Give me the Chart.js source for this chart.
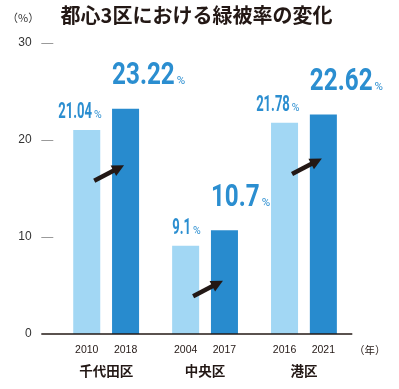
<!DOCTYPE html>
<html><head><meta charset="utf-8">
<script src="https://cdn.jsdelivr.net/npm/chart.js@4.4.1/dist/chart.umd.min.js"></script>
<style>html,body{margin:0;padding:0;background:#fff;} canvas{display:block}</style>
</head><body>
<canvas id="c" width="399" height="389"></canvas>
<script>
const districts = ['千代田区', '中央区', '港区'];
const beforeYears = ['2010', '2004', '2016'];
const afterYears = ['2018', '2017', '2021'];
const beforeValues = [21.04, 9.1, 21.78];
const afterValues = [23.22, 10.7, 22.62];
const beforeLabels = ['21.04', '9.1', '21.78'];
const afterLabels = ['23.22', '10.7', '22.62'];
const yTicks = [0, 10, 20, 30];
const arrowLevels = [15.8, 3.9, 16.5];
const titleText = '都心3区における緑被率の変化';
const yUnit = '（%）';
const xUnit = '（年）';

const LIGHT = '#A2D7F4';
const DARK = '#288BCE';
const LABEL = '#2B8ED0';
const INK = '#231815';

function drawValue(ctx, str, x, baseY, size, pctSize, sx, align) {
  ctx.font = 'bold ' + size + 'px Roboto';
  const w = ctx.measureText(str).width * sx;
  ctx.font = pctSize + 'px Roboto';
  const pw = ctx.measureText('%').width;
  const gap = 2;
  const total = w + gap + pw;
  const left = align === 'left' ? x : x - total;
  ctx.fillStyle = LABEL;
  ctx.textAlign = 'left';
  ctx.textBaseline = 'alphabetic';
  ctx.save();
  ctx.translate(left, baseY);
  ctx.scale(sx, 1);
  ctx.font = 'bold ' + size + 'px Roboto';
  ctx.fillText(str, 0, 0);
  ctx.restore();
  ctx.font = pctSize + 'px Roboto';
  ctx.fillText('%', left + w + gap, baseY);
}

function drawArrow(ctx, tx, ty, hx, hy) {
  const ang = Math.atan2(hy - ty, hx - tx);
  const headLen = 12, headHalf = 6;
  const bx = hx - headLen * Math.cos(ang), by = hy - headLen * Math.sin(ang);
  ctx.strokeStyle = INK;
  ctx.fillStyle = INK;
  ctx.lineWidth = 4.5;
  ctx.lineCap = 'butt';
  ctx.beginPath();
  ctx.moveTo(tx, ty);
  ctx.lineTo(bx + 1 * Math.cos(ang), by + 1 * Math.sin(ang));
  ctx.stroke();
  ctx.beginPath();
  ctx.moveTo(hx, hy);
  ctx.lineTo(bx + headHalf * Math.sin(ang), by - headHalf * Math.cos(ang));
  ctx.lineTo(bx - headHalf * Math.sin(ang), by + headHalf * Math.cos(ang));
  ctx.closePath();
  ctx.fill();
}

const decor = {
  id: 'decor',
  afterDraw(chart) {
    const ctx = chart.ctx;
    const ys = chart.scales.y, xs = chart.scales.x;
    const m0 = chart.getDatasetMeta(0), m1 = chart.getDatasetMeta(1);
    ctx.save();
    // title
    ctx.fillStyle = INK;
    ctx.font = 'bold 20px "Noto Sans CJK JP"';
    ctx.textAlign = 'center';
    ctx.textBaseline = 'middle';
    ctx.fillText(titleText, 196.5, 15.5);
    // unit
    ctx.fillStyle = '#333';
    ctx.font = '11px "Noto Sans CJK JP"';
    ctx.textAlign = 'left';
    ctx.fillText(yUnit, 7, 17.5);
    // tick dashes
    ctx.strokeStyle = '#9a9a9a';
    ctx.lineWidth = 1;
    yTicks.forEach(v => {
      if (v === 0) return;
      const y = Math.round(ys.getPixelForValue(v)) + 0.5;
      ctx.beginPath(); ctx.moveTo(41.3, y); ctx.lineTo(53.3, y); ctx.stroke();
    });
    // axis line
    const y0 = ys.getPixelForValue(0);
    ctx.strokeStyle = INK;
    ctx.lineWidth = 1.5;
    ctx.beginPath(); ctx.moveTo(41.3, y0); ctx.lineTo(352.3, y0); ctx.stroke();
    // years
    ctx.fillStyle = INK;
    ctx.font = '10.5px "Liberation Sans"';
    ctx.textAlign = 'center';
    ctx.textBaseline = 'middle';
    districts.forEach((d, i) => {
      ctx.fillText(beforeYears[i], m0.data[i].x, 350.5);
      ctx.fillText(afterYears[i], m1.data[i].x, 350.5);
    });
    ctx.font = '10.5px "Noto Sans CJK JP"';
    ctx.textAlign = 'left';
    ctx.fillText(xUnit, 354, 350.5);
    // districts
    ctx.font = 'bold 13.5px "Noto Sans CJK JP"';
    ctx.textAlign = 'center';
    districts.forEach((d, i) => {
      ctx.fillText(d, xs.getPixelForValue(i), 371);
    });
    // values
    districts.forEach((d, i) => {
      const b0 = m0.data[i], b1 = m1.data[i];
      drawValue(ctx, beforeLabels[i], b0.x + b0.width / 2 + 1.5, b0.y - 12, 22.5, 10.5, 0.58, 'right');
      drawValue(ctx, afterLabels[i], b1.x - b1.width / 2, b1.y - 24.5, 31.5, 11.5, 0.77, 'left');
    });
    // arrows
    districts.forEach((d, i) => {
      const b0 = m0.data[i], b1 = m1.data[i];
      const ty = ys.getPixelForValue(arrowLevels[i]);
      drawArrow(ctx, b0.x + 7.5, ty, b1.x - 1.5, ty - 15.5);
    });
    ctx.restore();
  }
};

new Chart(document.getElementById('c'), {
  type: 'bar',
  data: {
    labels: districts,
    datasets: [
      { data: beforeValues, backgroundColor: LIGHT, categoryPercentage: 0.785, barPercentage: 0.696 },
      { data: afterValues, backgroundColor: DARK, categoryPercentage: 0.785, barPercentage: 0.696 }
    ]
  },
  options: {
    responsive: false,
    animation: false,
    devicePixelRatio: 1,
    layout: { padding: { top: 43, bottom: 55, left: 0, right: 45.6 } },
    plugins: { legend: { display: false }, tooltip: { enabled: false }, title: { display: false } },
    scales: {
      x: { display: false, offset: true },
      y: {
        min: 0, max: 30,
        afterBuildTicks: s => { s.ticks = yTicks.map(v => ({ value: v })); },
        ticks: { padding: 25, color: '#333', font: { size: 12, family: '"Liberation Sans"' } },
        grid: { display: false, drawTicks: false },
        border: { display: false },
        afterFit: s => { s.width = 56.7; }
      }
    }
  },
  plugins: [decor]
});
</script>
</body></html>
